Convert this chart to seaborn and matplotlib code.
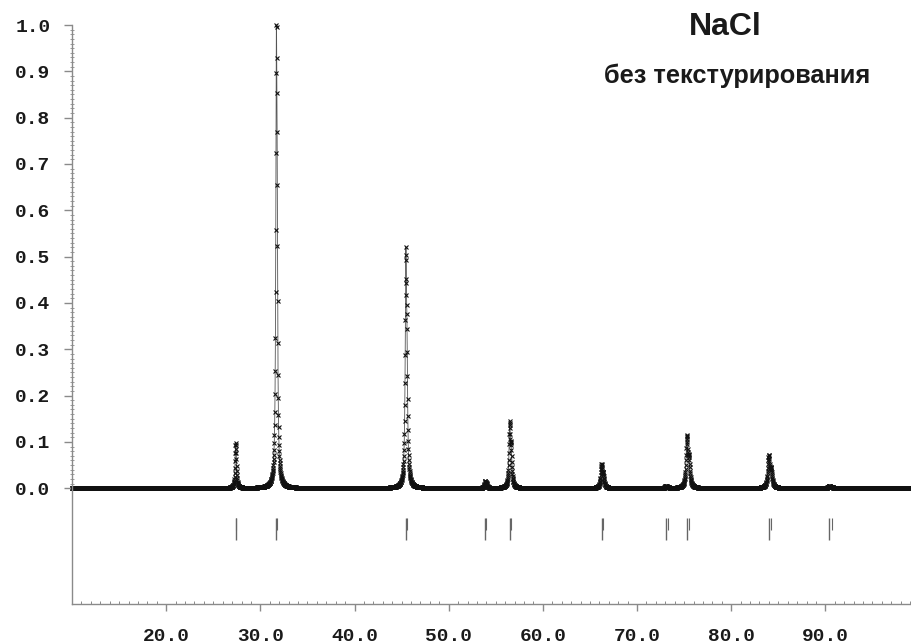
import numpy as np
import matplotlib
matplotlib.use("Agg")
import matplotlib.pyplot as plt
import seaborn as sns
from matplotlib.ticker import FixedLocator

sns.set_style("ticks")
plt.rcParams['font.family'] = ['Liberation Sans', 'DejaVu Sans']

# NaCl reflections (Cu K-alpha1 positions), peak heights
refl_2theta = [27.37, 31.70, 45.45, 53.87, 56.48, 66.23, 73.07, 75.30, 83.99, 90.41]
peak_height = [0.098, 1.000, 0.520, 0.016, 0.145, 0.053, 0.005, 0.115, 0.072, 0.005]
peak_fwhm = [0.13, 0.14, 0.16, 0.17, 0.17, 0.19, 0.20, 0.21, 0.23, 0.25]

x_ticks = [20, 30, 40, 50, 60, 70, 80, 90]
y_ticks = [0.0, 0.1, 0.2, 0.3, 0.4, 0.5, 0.6, 0.7, 0.8, 0.9, 1.0]

title = "NaCl"
subtitle = "без текстурирования"

# simulated powder profile: K-alpha1 + K-alpha2 doublet, Lorentzian shape
ka_ratio = 1.54439 / 1.54056
two_theta = np.arange(10.0, 99.2, 0.02)
intensity = np.zeros_like(two_theta)
ka2_pos = []
for pos, h, w in zip(refl_2theta, peak_height, peak_fwhm):
    th = np.radians(pos / 2)
    pos2 = 2 * np.degrees(np.arcsin(min(np.sin(th) * ka_ratio, 1.0)))
    ka2_pos.append(pos2)
    prof = 1 / (1 + (2 * (two_theta - pos) / w) ** 2) \
        + 0.5 / (1 + (2 * (two_theta - pos2) / w) ** 2)
    intensity += h * prof / prof.max()

fig = plt.figure(figsize=(9.12, 6.44), dpi=100)
ax = fig.add_axes([72 / 912, 40 / 644, (912 - 72) / 912, (604 - 25) / 644])

sns.lineplot(x=two_theta, y=intensity, ax=ax, color='#555555', linewidth=0.6,
             marker='x', markersize=3.5, markeredgewidth=0.8, markeredgecolor='#111111',
             estimator=None, sort=False, clip_on=False)

# reflection markers below the pattern
ax.vlines(refl_2theta, -0.112, -0.065, color='#666666', linewidth=1.0)
ax.vlines(ka2_pos, -0.09, -0.065, color='#666666', linewidth=0.8)

ax.set_xlim(10, 99.2)
ax.set_ylim(-0.25, 1.0)

sns.despine(ax=ax)
for s in ['left', 'bottom']:
    ax.spines[s].set_color('#8a8a8a')
    ax.spines[s].set_linewidth(1.0)

ax.set_xticks(x_ticks)
ax.set_xticklabels([f"{v:.1f}" for v in x_ticks])
ax.set_yticks(y_ticks)
ax.set_yticklabels([f"{v:.1f}" for v in y_ticks])
ax.xaxis.set_minor_locator(FixedLocator(np.arange(11, 99.1, 1.0)))
ax.yaxis.set_minor_locator(FixedLocator(np.arange(0, 1.001, 0.01)))

ax.tick_params(axis='x', which='major', direction='out', length=5, width=1,
               color='#8a8a8a', pad=12)
ax.tick_params(axis='y', which='major', direction='out', length=5.5, width=1,
               color='#8a8a8a', pad=10)
ax.tick_params(axis='x', which='minor', direction='in', length=2.5, width=0.7,
               color='#8a8a8a')
ax.tick_params(axis='y', which='minor', direction='inout', length=2.5, width=0.6,
               color='#8a8a8a')
for lab in ax.get_xticklabels() + ax.get_yticklabels():
    lab.set_family(['Liberation Mono', 'DejaVu Sans Mono'])
    lab.set_fontweight('bold')
    lab.set_fontsize(14)
    lab.set_color('#1a1a1a')

fig.text(725 / 912, (644 - 35) / 644, title, ha='center', va='baseline',
         fontsize=23, fontweight='bold', color='#1a1a1a')
fig.text(737 / 912, (644 - 83) / 644, subtitle, ha='center', va='baseline',
         fontsize=18.3, fontweight='bold', color='#1a1a1a')

fig.savefig('out.png', dpi=100)
